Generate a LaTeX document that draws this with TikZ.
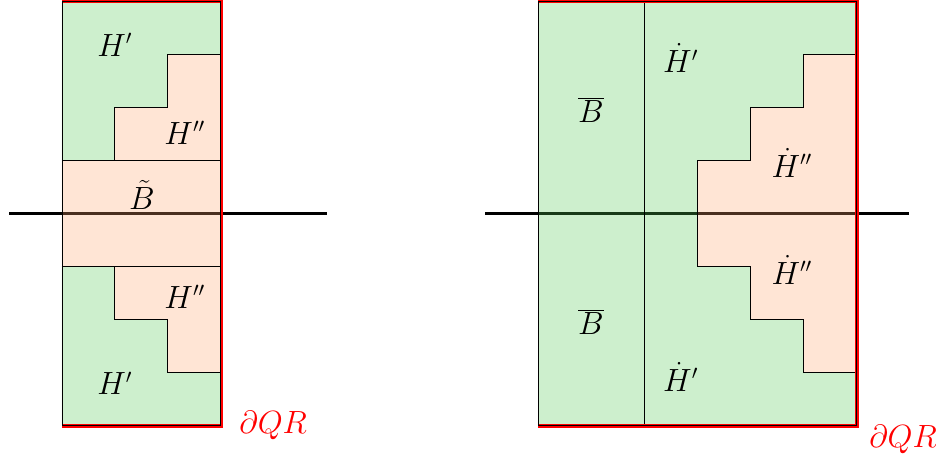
\documentclass[tikz,border=0pt]{standalone}
\definecolor{gfill}{RGB}{83,200,83}
\definecolor{ofill}{RGB}{255,165,110}
\tikzset{
  greenreg/.style={fill=gfill, fill opacity=0.29},
  orangereg/.style={fill=ofill, fill opacity=0.29},
  axisline/.style={line width=1.4pt},
  thinedge/.style={line width=0.5pt},
  outeredge/.style={line width=0.5pt},
  bdry/.style={red, line width=2pt},
  lab/.style={font=\fontsize{16}{19}\selectfont, inner sep=1pt},
  redlab/.style={lab, text=red},
}
\begin{document}
\begin{tikzpicture}
\useasboundingbox (-1.171,-0.642) rectangle (16.512,8.030);
% ---------- left picture ----------
\draw[axisline] (-1,4) -- (5,4);
\fill[greenreg] (0,8) -- (3,8) -- (3,7) -- (2,7) -- (2,6) -- (1,6) -- (1,5) -- (0,5) -- cycle;
\fill[greenreg] (0,0) -- (3,0) -- (3,1) -- (2,1) -- (2,2) -- (1,2) -- (1,3) -- (0,3) -- cycle;
\fill[orangereg] (3,7) -- (2,7) -- (2,6) -- (1,6) -- (1,5) -- (0,5) -- (0,3) -- (1,3) -- (1,2) -- (2,2) -- (2,1) -- (3,1) -- cycle;
\draw[thinedge] (3,7) -- (2,7) -- (2,6) -- (1,6) -- (1,5);
\draw[thinedge] (0,5) -- (3,5);
\draw[thinedge] (0,3) -- (3,3);
\draw[thinedge] (1,3) -- (1,2) -- (2,2) -- (2,1) -- (3,1);
\draw[bdry] (0,8.015) -- (3.015,8.015) -- (3.015,-0.015) -- (0,-0.015);
\draw[outeredge] (0,0) rectangle (3,8);
\node[lab] (h1) at (1.0,7.18) {$H'$};
\node[lab] (h2) at (2.32,5.52) {$H''$};
\node[lab] (bt) at (1.51,4.35) {$\tilde{B}$};
\node[lab] (h3) at (2.32,2.42) {$H''$};
\node[lab] (h4) at (1.0,0.79) {$H'$};
\node[redlab] (q1) at (3.99,0.0) {$\partial QR$};
% ---------- right picture ----------
\draw[axisline] (8,4) -- (16,4);
\fill[greenreg] (9,0) -- (15,0) -- (15,1) -- (14,1) -- (14,2) -- (13,2) -- (13,3) -- (12,3) -- (12,5) -- (13,5) -- (13,6) -- (14,6) -- (14,7) -- (15,7) -- (15,8) -- (9,8) -- cycle;
\fill[orangereg] (15,7) -- (14,7) -- (14,6) -- (13,6) -- (13,5) -- (12,5) -- (12,3) -- (13,3) -- (13,2) -- (14,2) -- (14,1) -- (15,1) -- cycle;
\draw[thinedge] (15,7) -- (14,7) -- (14,6) -- (13,6) -- (13,5) -- (12,5) -- (12,3) -- (13,3) -- (13,2) -- (14,2) -- (14,1) -- (15,1);
\draw[thinedge] (11,0) -- (11,8);
\draw[bdry] (9,8.015) -- (15.015,8.015) -- (15.015,-0.015) -- (9,-0.015);
\draw[outeredge] (9,0) rectangle (15,8);
\node[lab] (b1) at (9.99,5.95) {$\overline{B}$};
\node[lab] (b2) at (9.99,1.95) {$\overline{B}$};
\node[lab] (d1) at (11.69,6.93) {$\dot{H}'$};
\node[lab] (d2) at (13.79,4.95) {$\dot{H}''$};
\node[lab] (d3) at (13.79,2.93) {$\dot{H}''$};
\node[lab] (d4) at (11.69,0.91) {$\dot{H}'$};
\node[redlab] (q2) at (15.89,-0.28) {$\partial QR$};
\end{tikzpicture}
\end{document}
